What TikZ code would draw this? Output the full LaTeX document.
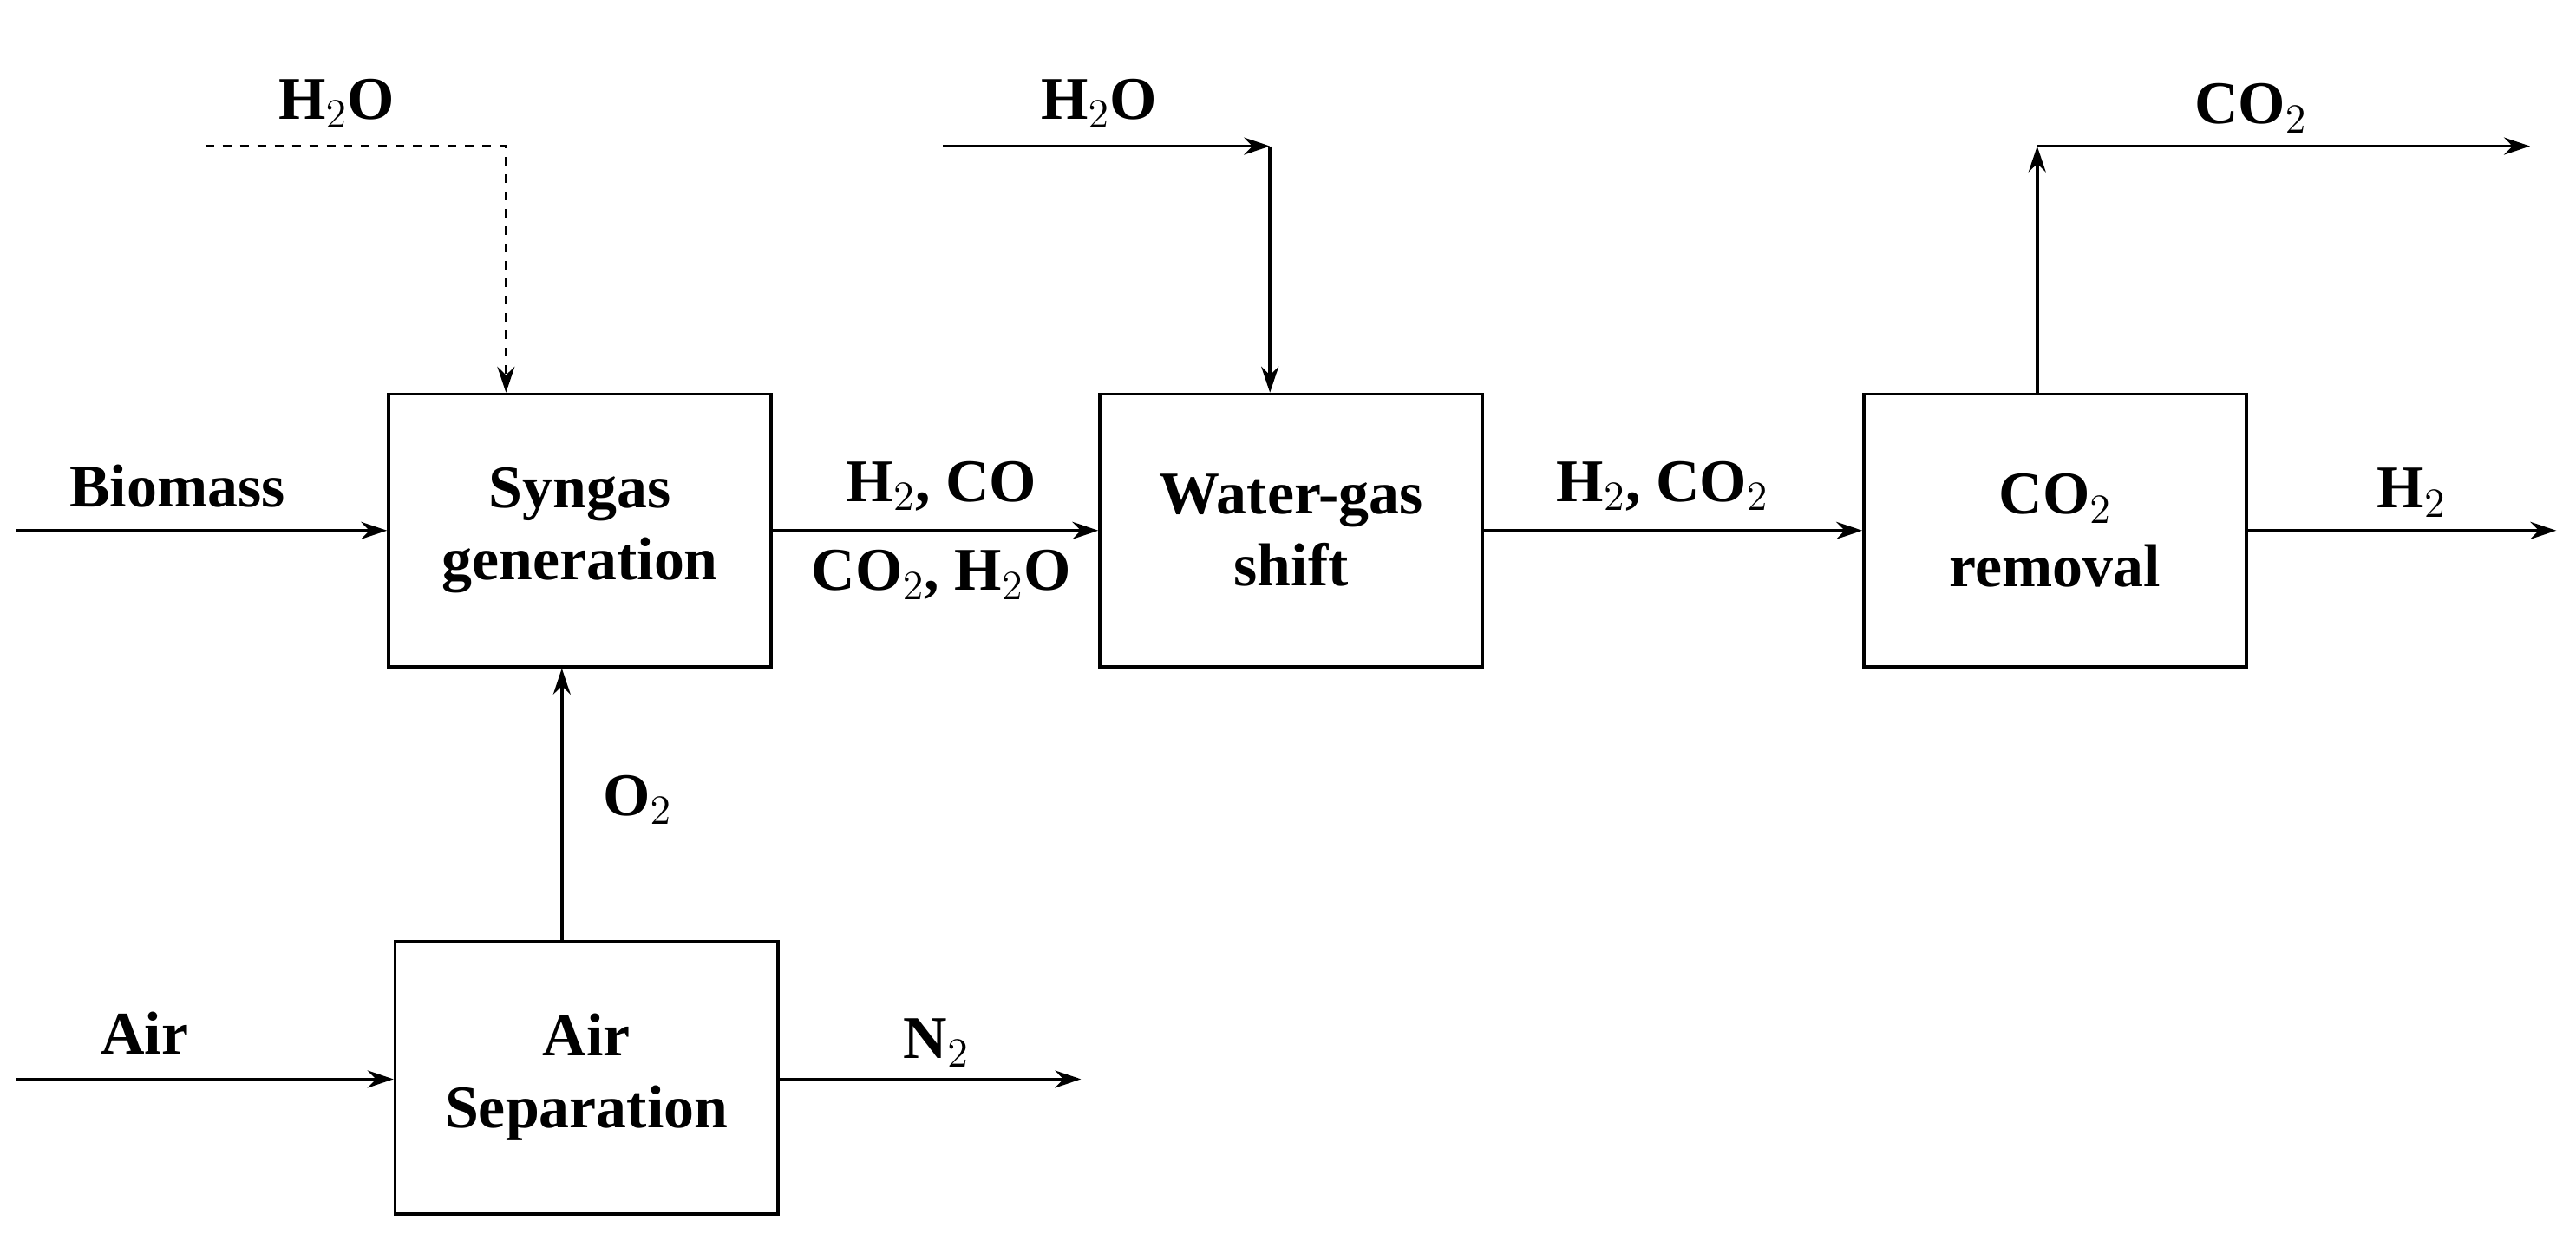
\documentclass[tikz,border=0pt]{standalone}
\usepackage{fontspec}
\setmainfont{Liberation Serif}
\usetikzlibrary{positioning,arrows.meta}
\begin{document}
\begin{tikzpicture}[x=0.02cm,y=-0.02cm]
	
		\tikzset{unitstyle/.style={draw,line width=1.1pt,minimum width=4.66cm,minimum height=3.32cm,align=center,font=\fontsize{21}{25}\selectfont\bfseries}}
		\tikzset{streamstyle/.style={-{Stealth[length=9pt,width=6pt]},line width=1.1pt}}
		\tikzset{labelstyle/.style={font=\fontsize{21}{25}\selectfont\bfseries}}
		
		\useasboundingbox (0,0) rectangle (1568,759);
		
		% units
		\node[unitstyle] at (353,323) (syn) {Syngas\\generation};
		\node[unitstyle] at (786,323) (wgs) {Water-gas\\shift};
		\node[unitstyle] at (1251,323) (rem) {CO$_2$\\removal};
		\node[unitstyle] at (357,656) (asu) {Air\\Separation};
		
		% free ends
		\coordinate (biomass) at (10,323);
		\coordinate (air) at (10,657);
		\coordinate (nitro) at (658,657);
		\coordinate (hydro) at (1556,323);
		\coordinate (steamA) at (125,89);
		\coordinate (bendA) at (308,89);
		\coordinate (steamB) at (574,89);
		\coordinate (bendB) at (773,89);
		\coordinate (bendC) at (1240,89);
		\coordinate (carbon) at (1540,89);
		
		\draw[streamstyle] (biomass) -- (syn.west |- biomass);
		\draw[streamstyle] (air) -- (asu.west |- air);
		\draw[streamstyle] (asu.east |- nitro) -- (nitro);
		\draw[streamstyle] (asu.north -| 342,0) -- (syn.south -| 342,0);
		\draw[streamstyle] (syn) -- (wgs);
		\draw[streamstyle] (wgs) -- (rem);
		\draw[streamstyle] (rem.east) -- (hydro);
		\draw[streamstyle,dashed] (steamA) -- (bendA) -- (syn.north -| bendA);
		\draw[streamstyle] (steamB) -- (bendB);
		\draw[streamstyle] (bendB) -- (wgs.north -| bendB);
		\draw[streamstyle] (rem.north -| bendC) -- (bendC);
		\draw[streamstyle] (bendC) -- (carbon);
		
		% labels
		\node[labelstyle] at (108,296) (lbio) {Biomass};
		\node[labelstyle] at (88,629) (lair) {Air};
		\node[labelstyle] at (570,635) (ln2) {N$_2$};
		\node[labelstyle] at (388,487) (lo2) {O$_2$};
		\node[labelstyle] at (205,63) (lh2oA) {H$_2$O};
		\node[labelstyle] at (669,63) (lh2oB) {H$_2$O};
		\node[labelstyle] at (573,296) (lsynA) {H$_2$, CO};
		\node[labelstyle] at (573,350) (lsynB) {CO$_2$, H$_2$O};
		\node[labelstyle] at (1012,296) (lshift) {H$_2$, CO$_2$};
		\node[labelstyle] at (1370,66) (lco2) {CO$_2$};
		\node[labelstyle] at (1468,300) (lh2) {H$_2$};
	\end{tikzpicture}
\end{document}
